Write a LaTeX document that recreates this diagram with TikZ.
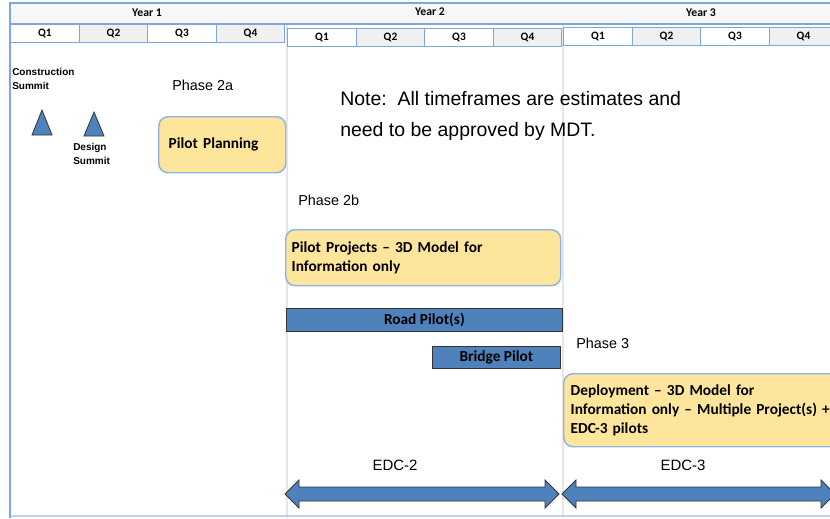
\documentclass[tikz,border=0pt]{standalone}
\usepackage{fontspec}
\newfontfamily\calfont[Ligatures=TeX]{Carlito}
\newfontfamily\arfont[Ligatures=TeX]{Liberation Sans}
\definecolor{hdrblue}{HTML}{7EA6DF}
\definecolor{hdrgrey}{HTML}{F7F7F7}
\definecolor{qgrey}{HTML}{F0F0F0}
\definecolor{barblue}{HTML}{4F81BD}
\definecolor{planyellow}{HTML}{FDE59C}
\definecolor{planedge}{HTML}{8DB4E2}
\definecolor{sepgrey}{HTML}{E6E6E6}
\tikzset{
  qcell/.style={draw=hdrblue, line width=1.1pt, minimum width=51.375pt, minimum height=13.5pt,
    inner sep=0pt, anchor=north west, font=\calfont\bfseries\fontsize{8.5}{10}\selectfont},
  ylab/.style={font=\calfont\bfseries\fontsize{8.8}{10}\selectfont, inner sep=0pt},
  sumlab/.style={font=\arfont\bfseries\fontsize{7.5}{10.2}\selectfont, align=left, inner sep=0pt},
  phase/.style={font=\arfont\fontsize{10.8}{13}\selectfont, inner sep=0pt, anchor=west},
  plan/.style={draw=planedge, line width=1.1pt, fill=planyellow, rounded corners=7pt, anchor=north west,
    align=left, font=\calfont\bfseries\fontsize{11.5}{14.5}\selectfont, inner ysep=0pt},
  bar/.style={draw=black!80, line width=0.6pt, fill=barblue, anchor=north west, inner sep=0pt,
    font=\calfont\bfseries\fontsize{11.5}{14}\selectfont},
  tri/.style={draw=black!80, line width=0.6pt, fill=barblue},
  sep/.style={draw=sepgrey, line width=0.8pt}
}
\begin{document}
\begin{tikzpicture}[x=0.75pt, y=-0.75pt]
\useasboundingbox (0,0) rectangle (830,518);

\draw[sep] (287,24) -- (287,518);
\draw[sep] (563,24) -- (563,518);
\draw[draw=hdrblue!50, line width=0.8pt] (10,516) -- (830,516);
\draw[draw=hdrblue, line width=1.1pt] (10,3) -- (10,518);

\draw[draw=hdrblue, line width=1.1pt, fill=hdrgrey] (10,3) rectangle (840,24);
\node[ylab] (year1) at (147,13) {Year 1};
\node[ylab] (year2) at (430,12) {Year 2};
\node[ylab] (year3) at (701,13) {Year 3};

\foreach \yr/\x/\y in {1/10/24, 2/287/28, 3/563/27}
  \foreach \q/\qc in {1/white, 2/qgrey, 3/white, 4/qgrey}
    \node[qcell, fill=\qc] (y\yr q\q) at ({\x+(\q-1)*68.5},\y) {Q\q};

\node[sumlab, anchor=north west] (consum) at (12,68) {Construction\\Summit};
\node[sumlab, anchor=north west] (dessum) at (73,143) {Design\\Summit};
\draw[tri] (32,135) -- (42,110) -- (52,135) -- cycle;
\draw[tri] (84,136) -- (94,112) -- (104,136) -- cycle;

\node[phase] (ph2a) at (172,85) {Phase 2a};
\node[plan, inner xsep=7.5pt, text width=80.25pt, minimum height=42pt] (pilplan) at (158,116) {Pilot Planning};

\node[font=\arfont\fontsize{14.6}{23.25}\selectfont, align=left, inner sep=0pt, anchor=north west] (note) at (340,91)
  {Note:\ \ All timeframes are estimates and\\need to be approved by MDT.};

\node[phase] (ph2b) at (298,200) {Phase 2b};
\node[plan, inner xsep=4.5pt, text width=197.25pt, minimum height=42pt] (pilproj) at (285,229)
  {Pilot Projects -- 3D Model for\\Information only};

\node[bar, minimum width=207pt, minimum height=17.25pt] (road) at (286,308) {Road Pilot(s)};
\node[bar, minimum width=96pt, minimum height=16.5pt] (bridge) at (432,346) {Bridge Pilot};

\node[phase] (ph3) at (576,343) {Phase 3};
\node[plan, inner xsep=5.25pt, text width=240pt, minimum height=54.75pt] (deploy) at (563,373)
  {Deployment -- 3D Model for\\Information only -- Multiple Project(s) +\\EDC-3 pilots};

\node[font=\arfont\fontsize{11.25}{13}\selectfont, inner sep=0pt] (edc2) at (395,465) {EDC-2};
\node[font=\arfont\fontsize{11.25}{13}\selectfont, inner sep=0pt] (edc3) at (683,465) {EDC-3};

\draw[tri] (285,494) -- (299,480) -- (299,487) -- (545,487) -- (545,480) -- (559,494)
  -- (545,508) -- (545,501) -- (299,501) -- (299,508) -- cycle;
\draw[tri] (562,494) -- (576,480) -- (576,487) -- (821,487) -- (821,480) -- (835,494)
  -- (821,508) -- (821,501) -- (576,501) -- (576,508) -- cycle;
\end{tikzpicture}
\end{document}
